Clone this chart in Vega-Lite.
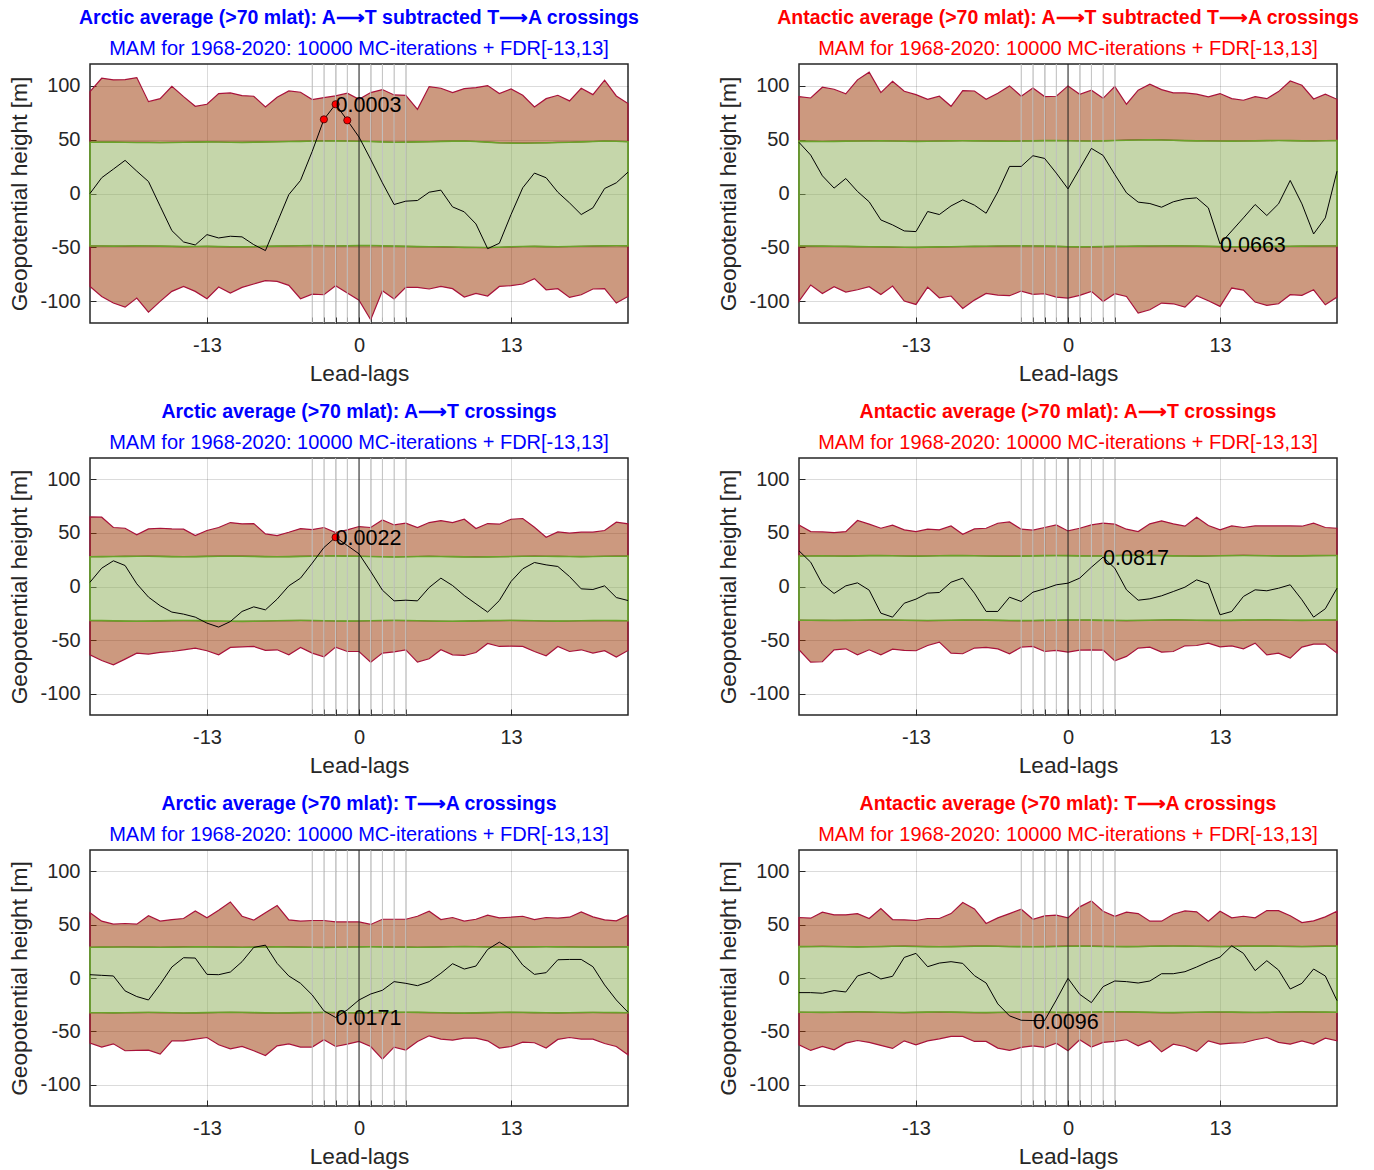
{
"$schema": "https://vega.github.io/schema/vega-lite/v6.json",
"background": "white",
"padding": {"left": 8, "top": 7, "right": 5, "bottom": 5},
"columns": 2,
"spacing": {"row": 135, "column": 171},
"bounds": "flush",
"datasets": {
"vl": [{"lag":-4},{"lag":-3},{"lag":-2},{"lag":-1},{"lag":0},{"lag":1},{"lag":2},{"lag":3},{"lag":4}],
"p1": [
{"lag":-23,"hi2":94.4,"hi1":47.5,"v":0,"lo1":-48.5,"lo2":-86.1},
{"lag":-22,"hi2":106.8,"hi1":47.6,"v":14.6,"lo1":-48.6,"lo2":-95.4},
{"lag":-21,"hi2":105.3,"hi1":47.6,"v":22.6,"lo1":-48.8,"lo2":-101.5},
{"lag":-20,"hi2":105.6,"hi1":47.5,"v":30.7,"lo1":-48.7,"lo2":-105.3},
{"lag":-19,"hi2":107.4,"hi1":47.3,"v":20.7,"lo1":-48.5,"lo2":-96.9},
{"lag":-18,"hi2":85.1,"hi1":47.3,"v":11.1,"lo1":-48.6,"lo2":-109.9},
{"lag":-17,"hi2":87.9,"hi1":47.2,"v":-11.8,"lo1":-48.8,"lo2":-100},
{"lag":-16,"hi2":99.4,"hi1":47.3,"v":-34.4,"lo1":-49,"lo2":-90.7},
{"lag":-15,"hi2":89.8,"hi1":47.5,"v":-44.9,"lo1":-49.2,"lo2":-86.1},
{"lag":-14,"hi2":80.8,"hi1":47.6,"v":-47.7,"lo1":-49.1,"lo2":-90.7},
{"lag":-13,"hi2":82.7,"hi1":47.8,"v":-38.1,"lo1":-49,"lo2":-97.5},
{"lag":-12,"hi2":92.6,"hi1":47.7,"v":-41.2,"lo1":-49.2,"lo2":-86.7},
{"lag":-11,"hi2":93.2,"hi1":47.5,"v":-39.6,"lo1":-49.4,"lo2":-92.3},
{"lag":-10,"hi2":90.7,"hi1":47.4,"v":-40.2,"lo1":-49.5,"lo2":-87},
{"lag":-9,"hi2":90.1,"hi1":47.6,"v":-47.4,"lo1":-49.3,"lo2":-83.9},
{"lag":-8,"hi2":80.2,"hi1":47.8,"v":-52.9,"lo1":-49,"lo2":-80.8},
{"lag":-7,"hi2":89.2,"hi1":48,"v":-27,"lo1":-48.8,"lo2":-81.4},
{"lag":-6,"hi2":95,"hi1":48.2,"v":-1,"lo1":-48.6,"lo2":-85.1},
{"lag":-5,"hi2":93.8,"hi1":48.3,"v":12.1,"lo1":-48.4,"lo2":-97.5},
{"lag":-4,"hi2":87,"hi1":48.6,"v":39,"lo1":-48.3,"lo2":-93.2},
{"lag":-3,"hi2":88.9,"hi1":48.7,"v":68.7,"lo1":-48.4,"lo2":-93.8},
{"lag":-2,"hi2":90.4,"hi1":48.8,"v":82.7,"lo1":-48.6,"lo2":-85.4},
{"lag":-1,"hi2":92.9,"hi1":48.6,"v":67.8,"lo1":-48.5,"lo2":-92.3},
{"lag":0,"hi2":87.3,"hi1":48.4,"v":52.3,"lo1":-48.3,"lo2":-98.8},
{"lag":1,"hi2":93.5,"hi1":48.2,"v":31.6,"lo1":-48.2,"lo2":-117},
{"lag":2,"hi2":96.3,"hi1":47.8,"v":9.9,"lo1":-48.5,"lo2":-90.1},
{"lag":3,"hi2":91.3,"hi1":47.5,"v":-10.2,"lo1":-48.8,"lo2":-97.8},
{"lag":4,"hi2":91,"hi1":47.6,"v":-7.1,"lo1":-49,"lo2":-87},
{"lag":5,"hi2":78,"hi1":47.8,"v":-6.5,"lo1":-49.2,"lo2":-87},
{"lag":6,"hi2":99.1,"hi1":48,"v":1.2,"lo1":-49.3,"lo2":-88.5},
{"lag":7,"hi2":97.5,"hi1":48.3,"v":3.1,"lo1":-49.4,"lo2":-86.1},
{"lag":8,"hi2":93.5,"hi1":48.5,"v":-12.4,"lo1":-49.6,"lo2":-88.2},
{"lag":9,"hi2":97.2,"hi1":48.6,"v":-17,"lo1":-49.9,"lo2":-96},
{"lag":10,"hi2":98.1,"hi1":48.2,"v":-28.2,"lo1":-50,"lo2":-92.6},
{"lag":11,"hi2":100,"hi1":47.6,"v":-51.1,"lo1":-50.1,"lo2":-95},
{"lag":12,"hi2":92.6,"hi1":47,"v":-46.1,"lo1":-49.8,"lo2":-86.1},
{"lag":13,"hi2":96.9,"hi1":46.7,"v":-19.5,"lo1":-49.4,"lo2":-85.4},
{"lag":14,"hi2":91,"hi1":46.6,"v":5.3,"lo1":-49.1,"lo2":-83.9},
{"lag":15,"hi2":80.2,"hi1":46.8,"v":18.9,"lo1":-49,"lo2":-78.9},
{"lag":16,"hi2":87.9,"hi1":47,"v":14.6,"lo1":-49.2,"lo2":-89.2},
{"lag":17,"hi2":91,"hi1":47.3,"v":1.2,"lo1":-49.3,"lo2":-88.2},
{"lag":18,"hi2":85.8,"hi1":47.5,"v":-8.7,"lo1":-49.1,"lo2":-96.3},
{"lag":19,"hi2":97.5,"hi1":47.8,"v":-19.5,"lo1":-48.9,"lo2":-93.8},
{"lag":20,"hi2":91.6,"hi1":48.2,"v":-13.3,"lo1":-48.7,"lo2":-88.5},
{"lag":21,"hi2":105,"hi1":48.6,"v":4.6,"lo1":-48.5,"lo2":-88.2},
{"lag":22,"hi2":90.4,"hi1":48.4,"v":9.9,"lo1":-48.4,"lo2":-101.5},
{"lag":23,"hi2":83.3,"hi1":48,"v":19.8,"lo1":-48.5,"lo2":-95.4}
],
"p2": [
{"lag":-23,"hi2":89.8,"hi1":48.5,"v":47.4,"lo1":-48.6,"lo2":-99.7},
{"lag":-22,"hi2":88.5,"hi1":48.3,"v":35.6,"lo1":-48.7,"lo2":-84.8},
{"lag":-21,"hi2":98.5,"hi1":48.2,"v":16.4,"lo1":-48.8,"lo2":-92.6},
{"lag":-20,"hi2":96.6,"hi1":48.3,"v":5,"lo1":-48.9,"lo2":-86.4},
{"lag":-19,"hi2":92.3,"hi1":48.5,"v":13.9,"lo1":-49,"lo2":-91.3},
{"lag":-18,"hi2":105.3,"hi1":48.6,"v":1.9,"lo1":-49.2,"lo2":-89.2},
{"lag":-17,"hi2":112.4,"hi1":48.7,"v":-7.7,"lo1":-49.3,"lo2":-86.4},
{"lag":-16,"hi2":93.5,"hi1":48.8,"v":-24.5,"lo1":-49.5,"lo2":-93.5},
{"lag":-15,"hi2":104,"hi1":48.6,"v":-29.1,"lo1":-49.6,"lo2":-85.8},
{"lag":-14,"hi2":94.7,"hi1":48.4,"v":-34.7,"lo1":-49.8,"lo2":-99.7},
{"lag":-13,"hi2":91.6,"hi1":48.3,"v":-35.3,"lo1":-49.9,"lo2":-102.8},
{"lag":-12,"hi2":87.3,"hi1":48.4,"v":-16.7,"lo1":-49.7,"lo2":-86.7},
{"lag":-11,"hi2":90.1,"hi1":48.6,"v":-19.5,"lo1":-49.5,"lo2":-96.6},
{"lag":-10,"hi2":80.8,"hi1":48.8,"v":-11.5,"lo1":-49.3,"lo2":-95},
{"lag":-9,"hi2":95.4,"hi1":48.9,"v":-5.9,"lo1":-49.1,"lo2":-106.5},
{"lag":-8,"hi2":95,"hi1":48.8,"v":-10.8,"lo1":-49,"lo2":-98.8},
{"lag":-7,"hi2":87.3,"hi1":48.6,"v":-18.3,"lo1":-48.9,"lo2":-92.6},
{"lag":-6,"hi2":92.9,"hi1":48.5,"v":1.5,"lo1":-48.7,"lo2":-94.1},
{"lag":-5,"hi2":99.7,"hi1":48.4,"v":25.1,"lo1":-48.6,"lo2":-94.7},
{"lag":-4,"hi2":90.1,"hi1":48.6,"v":25.1,"lo1":-48.5,"lo2":-90.4},
{"lag":-3,"hi2":97.8,"hi1":48.8,"v":35,"lo1":-48.6,"lo2":-93.5},
{"lag":-2,"hi2":89.8,"hi1":49,"v":32.5,"lo1":-48.8,"lo2":-92.9},
{"lag":-1,"hi2":90.1,"hi1":49.1,"v":18.9,"lo1":-49,"lo2":-96},
{"lag":0,"hi2":99.7,"hi1":48.9,"v":4.3,"lo1":-49.3,"lo2":-96.9},
{"lag":1,"hi2":92,"hi1":48.7,"v":23,"lo1":-49.5,"lo2":-94.4},
{"lag":2,"hi2":95.7,"hi1":48.6,"v":41.8,"lo1":-49.4,"lo2":-90.7},
{"lag":3,"hi2":88.2,"hi1":48.8,"v":35.3,"lo1":-49.2,"lo2":-100},
{"lag":4,"hi2":99.1,"hi1":49.1,"v":17.6,"lo1":-49,"lo2":-92.9},
{"lag":5,"hi2":82.7,"hi1":49.4,"v":0.6,"lo1":-48.9,"lo2":-95.4},
{"lag":6,"hi2":95.7,"hi1":49.6,"v":-8,"lo1":-48.8,"lo2":-110.8},
{"lag":7,"hi2":101.2,"hi1":49.8,"v":-9.3,"lo1":-48.7,"lo2":-107.7},
{"lag":8,"hi2":96.3,"hi1":49.6,"v":-12.7,"lo1":-48.6,"lo2":-101.5},
{"lag":9,"hi2":93.2,"hi1":49.3,"v":-7.7,"lo1":-48.5,"lo2":-102.2},
{"lag":10,"hi2":93.2,"hi1":49,"v":-5,"lo1":-48.6,"lo2":-105.3},
{"lag":11,"hi2":92,"hi1":48.8,"v":-4,"lo1":-48.8,"lo2":-94.7},
{"lag":12,"hi2":89.5,"hi1":48.7,"v":-13.3,"lo1":-49,"lo2":-99.4},
{"lag":13,"hi2":92.6,"hi1":48.6,"v":-46.7,"lo1":-49.2,"lo2":-104.6},
{"lag":14,"hi2":87.9,"hi1":48.5,"v":-34.7,"lo1":-49.4,"lo2":-87.6},
{"lag":15,"hi2":86.4,"hi1":48.6,"v":-22.6,"lo1":-49.5,"lo2":-89.5},
{"lag":16,"hi2":89.8,"hi1":48.8,"v":-10.2,"lo1":-49.4,"lo2":-100.6},
{"lag":17,"hi2":87.9,"hi1":49,"v":-20.4,"lo1":-49.2,"lo2":-103.7},
{"lag":18,"hi2":94.4,"hi1":49.1,"v":-9.6,"lo1":-49,"lo2":-102.2},
{"lag":19,"hi2":104.3,"hi1":49,"v":12.1,"lo1":-48.9,"lo2":-93.8},
{"lag":20,"hi2":100.3,"hi1":48.8,"v":-9.6,"lo1":-48.8,"lo2":-94.4},
{"lag":21,"hi2":87.6,"hi1":48.7,"v":-37.5,"lo1":-48.7,"lo2":-89.2},
{"lag":22,"hi2":92,"hi1":48.9,"v":-22.6,"lo1":-48.6,"lo2":-103.1},
{"lag":23,"hi2":87.3,"hi1":49.1,"v":20.7,"lo1":-48.5,"lo2":-96}
],
"p3": [
{"lag":-23,"hi2":65,"hi1":27.8,"v":4,"lo1":-31.8,"lo2":-63.8},
{"lag":-22,"hi2":64.7,"hi1":27.9,"v":17.1,"lo1":-31.9,"lo2":-69.1},
{"lag":-21,"hi2":55.1,"hi1":28,"v":24,"lo1":-32.1,"lo2":-73.1},
{"lag":-20,"hi2":54.4,"hi1":28.1,"v":19.6,"lo1":-32.3,"lo2":-67.8},
{"lag":-19,"hi2":48.2,"hi1":28.2,"v":2.5,"lo1":-32.4,"lo2":-62.2},
{"lag":-18,"hi2":53.8,"hi1":28.3,"v":-9.9,"lo1":-32.3,"lo2":-63.1},
{"lag":-17,"hi2":54.4,"hi1":28.1,"v":-18,"lo1":-32.1,"lo2":-61.6},
{"lag":-16,"hi2":53.8,"hi1":27.9,"v":-23.9,"lo1":-31.9,"lo2":-60.7},
{"lag":-15,"hi2":53.5,"hi1":27.8,"v":-25.8,"lo1":-31.8,"lo2":-59.1},
{"lag":-14,"hi2":47.6,"hi1":27.9,"v":-28.6,"lo1":-31.9,"lo2":-57.5},
{"lag":-13,"hi2":52.3,"hi1":28.1,"v":-34.2,"lo1":-32.1,"lo2":-60},
{"lag":-12,"hi2":55.1,"hi1":28.3,"v":-37.9,"lo1":-32.3,"lo2":-63.8},
{"lag":-11,"hi2":59.7,"hi1":28.4,"v":-32.7,"lo1":-32.5,"lo2":-56.9},
{"lag":-10,"hi2":58.5,"hi1":28.3,"v":-23.3,"lo1":-32.6,"lo2":-56.3},
{"lag":-9,"hi2":58.8,"hi1":28.1,"v":-19,"lo1":-32.4,"lo2":-56},
{"lag":-8,"hi2":49.1,"hi1":27.9,"v":-21.8,"lo1":-32.2,"lo2":-59.7},
{"lag":-7,"hi2":47.6,"hi1":27.8,"v":-11.8,"lo1":-32,"lo2":-59.1},
{"lag":-6,"hi2":50.7,"hi1":27.9,"v":0.6,"lo1":-31.8,"lo2":-63.8},
{"lag":-5,"hi2":54.1,"hi1":28.1,"v":7.8,"lo1":-31.7,"lo2":-56.9},
{"lag":-4,"hi2":53.2,"hi1":28.3,"v":21.8,"lo1":-31.8,"lo2":-62.2},
{"lag":-3,"hi2":55.1,"hi1":28.5,"v":36.4,"lo1":-32,"lo2":-65.6},
{"lag":-2,"hi2":50.4,"hi1":28.6,"v":46,"lo1":-32.2,"lo2":-56.6},
{"lag":-1,"hi2":52.9,"hi1":28.4,"v":38.3,"lo1":-32.3,"lo2":-60.7},
{"lag":0,"hi2":56,"hi1":28.2,"v":30.5,"lo1":-32.2,"lo2":-60.7},
{"lag":1,"hi2":55.1,"hi1":28,"v":14,"lo1":-32,"lo2":-70.6},
{"lag":2,"hi2":62.2,"hi1":27.8,"v":-3.4,"lo1":-31.8,"lo2":-62.2},
{"lag":3,"hi2":57.5,"hi1":27.7,"v":-13.4,"lo1":-31.7,"lo2":-61},
{"lag":4,"hi2":59.1,"hi1":27.8,"v":-12.8,"lo1":-31.8,"lo2":-59.1},
{"lag":5,"hi2":55.1,"hi1":28,"v":-13.4,"lo1":-32,"lo2":-70.6},
{"lag":6,"hi2":59.7,"hi1":28.1,"v":-0.9,"lo1":-32.2,"lo2":-67.5},
{"lag":7,"hi2":61.6,"hi1":28,"v":7.8,"lo1":-32.4,"lo2":-59.1},
{"lag":8,"hi2":59.7,"hi1":27.9,"v":0.9,"lo1":-32.5,"lo2":-63.8},
{"lag":9,"hi2":62.8,"hi1":27.7,"v":-8.4,"lo1":-32.3,"lo2":-64.4},
{"lag":10,"hi2":54.1,"hi1":27.6,"v":-16.2,"lo1":-32.1,"lo2":-61.6},
{"lag":11,"hi2":58.8,"hi1":27.7,"v":-23.9,"lo1":-31.9,"lo2":-53.2},
{"lag":12,"hi2":58.2,"hi1":27.8,"v":-13.1,"lo1":-31.8,"lo2":-56},
{"lag":13,"hi2":62.8,"hi1":28,"v":4.7,"lo1":-31.7,"lo2":-55.7},
{"lag":14,"hi2":63.5,"hi1":28.2,"v":16.5,"lo1":-31.8,"lo2":-56},
{"lag":15,"hi2":55.4,"hi1":28.3,"v":22.4,"lo1":-32,"lo2":-60.7},
{"lag":16,"hi2":46,"hi1":28.2,"v":20.2,"lo1":-32.2,"lo2":-64.7},
{"lag":17,"hi2":51,"hi1":28.1,"v":18.7,"lo1":-32.3,"lo2":-56},
{"lag":18,"hi2":49.8,"hi1":28,"v":9.3,"lo1":-32.2,"lo2":-60.7},
{"lag":19,"hi2":50.7,"hi1":27.9,"v":-2.2,"lo1":-32,"lo2":-59.1},
{"lag":20,"hi2":50.7,"hi1":28,"v":-2.8,"lo1":-31.9,"lo2":-62.2},
{"lag":21,"hi2":52.3,"hi1":28.2,"v":0.6,"lo1":-31.8,"lo2":-60},
{"lag":22,"hi2":60,"hi1":28.3,"v":-10.3,"lo1":-31.9,"lo2":-65.9},
{"lag":23,"hi2":58.5,"hi1":28.4,"v":-13.1,"lo1":-32,"lo2":-59.7}
],
"p4": [
{"lag":-23,"hi2":57.5,"hi1":28.4,"v":33.3,"lo1":-31.4,"lo2":-59.1},
{"lag":-22,"hi2":51.3,"hi1":28.5,"v":22.7,"lo1":-31.5,"lo2":-70.6},
{"lag":-21,"hi2":51,"hi1":28.6,"v":2.2,"lo1":-31.6,"lo2":-70.3},
{"lag":-20,"hi2":50.4,"hi1":28.5,"v":-6.5,"lo1":-31.7,"lo2":-59.1},
{"lag":-19,"hi2":51.3,"hi1":28.4,"v":0.6,"lo1":-31.6,"lo2":-58.2},
{"lag":-18,"hi2":61.6,"hi1":28.6,"v":3.4,"lo1":-31.5,"lo2":-63.8},
{"lag":-17,"hi2":58.2,"hi1":28.8,"v":-3.4,"lo1":-31.3,"lo2":-59.1},
{"lag":-16,"hi2":54.4,"hi1":28.9,"v":-24.9,"lo1":-31.2,"lo2":-63.8},
{"lag":-15,"hi2":57.2,"hi1":28.7,"v":-28.6,"lo1":-31.3,"lo2":-58.5},
{"lag":-14,"hi2":52.9,"hi1":28.5,"v":-15.6,"lo1":-31.5,"lo2":-59.7},
{"lag":-13,"hi2":51.3,"hi1":28.4,"v":-11.8,"lo1":-31.7,"lo2":-60},
{"lag":-12,"hi2":53.5,"hi1":28.5,"v":-6.2,"lo1":-31.8,"lo2":-55.1},
{"lag":-11,"hi2":52.9,"hi1":28.7,"v":-5.6,"lo1":-31.7,"lo2":-51.9},
{"lag":-10,"hi2":56.6,"hi1":28.8,"v":4,"lo1":-31.5,"lo2":-62.2},
{"lag":-9,"hi2":48.8,"hi1":28.9,"v":7.8,"lo1":-31.4,"lo2":-62.8},
{"lag":-8,"hi2":53.8,"hi1":28.7,"v":-6.2,"lo1":-31.3,"lo2":-57.5},
{"lag":-7,"hi2":54.4,"hi1":28.5,"v":-23.3,"lo1":-31.4,"lo2":-56.9},
{"lag":-6,"hi2":59.1,"hi1":28.4,"v":-23.3,"lo1":-31.6,"lo2":-58.2},
{"lag":-5,"hi2":60.3,"hi1":28.3,"v":-10,"lo1":-31.8,"lo2":-62.8},
{"lag":-4,"hi2":53.5,"hi1":28.4,"v":-14,"lo1":-31.9,"lo2":-56.6},
{"lag":-3,"hi2":52.6,"hi1":28.6,"v":-5.3,"lo1":-31.8,"lo2":-56},
{"lag":-2,"hi2":55.1,"hi1":28.8,"v":-2.2,"lo1":-31.6,"lo2":-60.7},
{"lag":-1,"hi2":57.5,"hi1":28.9,"v":1.6,"lo1":-31.5,"lo2":-59.7},
{"lag":0,"hi2":51.9,"hi1":28.8,"v":3.1,"lo1":-31.4,"lo2":-61.3},
{"lag":1,"hi2":54.4,"hi1":28.6,"v":7.8,"lo1":-31.3,"lo2":-59.4},
{"lag":2,"hi2":57.5,"hi1":28.5,"v":18,"lo1":-31.4,"lo2":-59.1},
{"lag":3,"hi2":59.1,"hi1":28.6,"v":27.4,"lo1":-31.6,"lo2":-59.4},
{"lag":4,"hi2":58.2,"hi1":28.8,"v":17.1,"lo1":-31.7,"lo2":-69.4},
{"lag":5,"hi2":53.5,"hi1":29,"v":-3.1,"lo1":-31.8,"lo2":-65.3},
{"lag":6,"hi2":51.3,"hi1":29.1,"v":-12.8,"lo1":-31.7,"lo2":-57.5},
{"lag":7,"hi2":58.5,"hi1":29,"v":-11.5,"lo1":-31.5,"lo2":-56.6},
{"lag":8,"hi2":61.3,"hi1":28.8,"v":-8.7,"lo1":-31.3,"lo2":-61.3},
{"lag":9,"hi2":58.5,"hi1":28.6,"v":-4.7,"lo1":-31.2,"lo2":-60.7},
{"lag":10,"hi2":56.3,"hi1":28.5,"v":-0.6,"lo1":-31.3,"lo2":-55.4},
{"lag":11,"hi2":64.7,"hi1":28.4,"v":6.2,"lo1":-31.5,"lo2":-55.1},
{"lag":12,"hi2":56.9,"hi1":28.5,"v":2.5,"lo1":-31.6,"lo2":-52.9},
{"lag":13,"hi2":52.9,"hi1":28.7,"v":-26.4,"lo1":-31.7,"lo2":-56.3},
{"lag":14,"hi2":56.6,"hi1":28.9,"v":-23.3,"lo1":-31.6,"lo2":-55.4},
{"lag":15,"hi2":55.1,"hi1":29,"v":-9.3,"lo1":-31.4,"lo2":-58.2},
{"lag":16,"hi2":56.6,"hi1":28.9,"v":-3.1,"lo1":-31.3,"lo2":-52.9},
{"lag":17,"hi2":56.6,"hi1":28.7,"v":-4,"lo1":-31.2,"lo2":-63.8},
{"lag":18,"hi2":56.6,"hi1":28.6,"v":-1.6,"lo1":-31.3,"lo2":-62.2},
{"lag":19,"hi2":56.6,"hi1":28.5,"v":1.6,"lo1":-31.5,"lo2":-66.9},
{"lag":20,"hi2":56.3,"hi1":28.6,"v":-12.4,"lo1":-31.6,"lo2":-56.6},
{"lag":21,"hi2":59.1,"hi1":28.8,"v":-28.6,"lo1":-31.5,"lo2":-53.8},
{"lag":22,"hi2":55.1,"hi1":28.9,"v":-20.8,"lo1":-31.4,"lo2":-53.8},
{"lag":23,"hi2":54.4,"hi1":29,"v":-1.6,"lo1":-31.3,"lo2":-62.2}
],
"p5": [
{"lag":-23,"hi2":61.1,"hi1":28.8,"v":3.1,"lo1":-32.5,"lo2":-61.1},
{"lag":-22,"hi2":53.3,"hi1":28.9,"v":2.5,"lo1":-32.6,"lo2":-64.8},
{"lag":-21,"hi2":50.5,"hi1":29,"v":1.9,"lo1":-32.7,"lo2":-61.7},
{"lag":-20,"hi2":51.1,"hi1":29.1,"v":-12.1,"lo1":-32.6,"lo2":-68.2},
{"lag":-19,"hi2":50.5,"hi1":29,"v":-17.4,"lo1":-32.4,"lo2":-67.9},
{"lag":-18,"hi2":58.3,"hi1":28.9,"v":-20.6,"lo1":-32.3,"lo2":-67.6},
{"lag":-17,"hi2":53.3,"hi1":28.8,"v":-5.9,"lo1":-32.4,"lo2":-71.3},
{"lag":-16,"hi2":54.8,"hi1":28.9,"v":10.3,"lo1":-32.6,"lo2":-58.9},
{"lag":-15,"hi2":55.8,"hi1":29.1,"v":19,"lo1":-32.8,"lo2":-58.9},
{"lag":-14,"hi2":62.9,"hi1":29.3,"v":18.7,"lo1":-32.7,"lo2":-57.3},
{"lag":-13,"hi2":56.4,"hi1":29.2,"v":3.4,"lo1":-32.5,"lo2":-55.8},
{"lag":-12,"hi2":63.6,"hi1":29,"v":3.1,"lo1":-32.3,"lo2":-62.6},
{"lag":-11,"hi2":71.3,"hi1":28.9,"v":5.6,"lo1":-32.2,"lo2":-66.4},
{"lag":-10,"hi2":57.9,"hi1":28.8,"v":15.3,"lo1":-32.3,"lo2":-64.2},
{"lag":-9,"hi2":54.2,"hi1":28.9,"v":28.7,"lo1":-32.5,"lo2":-68.2},
{"lag":-8,"hi2":61.1,"hi1":29.1,"v":30.8,"lo1":-32.7,"lo2":-72.6},
{"lag":-7,"hi2":67.9,"hi1":29.2,"v":13.7,"lo1":-32.8,"lo2":-63.6},
{"lag":-6,"hi2":54.5,"hi1":29.1,"v":1.9,"lo1":-32.7,"lo2":-61.7},
{"lag":-5,"hi2":53.3,"hi1":28.9,"v":-5,"lo1":-32.5,"lo2":-64.8},
{"lag":-4,"hi2":53.9,"hi1":28.8,"v":-15.9,"lo1":-32.4,"lo2":-64.8},
{"lag":-3,"hi2":53.9,"hi1":28.7,"v":-30.8,"lo1":-32.3,"lo2":-57.9},
{"lag":-2,"hi2":52.6,"hi1":28.8,"v":-37,"lo1":-32.4,"lo2":-64.2},
{"lag":-1,"hi2":52.6,"hi1":29,"v":-29.9,"lo1":-32.6,"lo2":-62},
{"lag":0,"hi2":52.6,"hi1":29.2,"v":-20.6,"lo1":-32.7,"lo2":-59.5},
{"lag":1,"hi2":50.2,"hi1":29.3,"v":-15,"lo1":-32.6,"lo2":-64.2},
{"lag":2,"hi2":55.1,"hi1":29.2,"v":-11.5,"lo1":-32.4,"lo2":-76},
{"lag":3,"hi2":55.1,"hi1":29,"v":-3.4,"lo1":-32.2,"lo2":-64.8},
{"lag":4,"hi2":55.1,"hi1":28.9,"v":-5,"lo1":-32.1,"lo2":-67.6},
{"lag":5,"hi2":57.9,"hi1":28.8,"v":-7.2,"lo1":-32.2,"lo2":-59.5},
{"lag":6,"hi2":62.6,"hi1":28.9,"v":-3.4,"lo1":-32.4,"lo2":-54.2},
{"lag":7,"hi2":54.8,"hi1":29.1,"v":4.4,"lo1":-32.6,"lo2":-57.3},
{"lag":8,"hi2":56.7,"hi1":29.3,"v":13.4,"lo1":-32.8,"lo2":-58.3},
{"lag":9,"hi2":53.3,"hi1":29.4,"v":8.4,"lo1":-32.9,"lo2":-56.4},
{"lag":10,"hi2":55.1,"hi1":29.3,"v":11.2,"lo1":-32.7,"lo2":-56.4},
{"lag":11,"hi2":58.9,"hi1":29.1,"v":26.8,"lo1":-32.5,"lo2":-58.9},
{"lag":12,"hi2":56.4,"hi1":29,"v":33.6,"lo1":-32.3,"lo2":-65.7},
{"lag":13,"hi2":57,"hi1":28.9,"v":26.8,"lo1":-32.2,"lo2":-64.2},
{"lag":14,"hi2":57.9,"hi1":29,"v":12.1,"lo1":-32.3,"lo2":-60.1},
{"lag":15,"hi2":54.8,"hi1":29.2,"v":3.4,"lo1":-32.5,"lo2":-60.7},
{"lag":16,"hi2":56.7,"hi1":29.3,"v":5,"lo1":-32.6,"lo2":-65.7},
{"lag":17,"hi2":56.1,"hi1":29.2,"v":17.1,"lo1":-32.7,"lo2":-57.6},
{"lag":18,"hi2":57,"hi1":29.1,"v":17.4,"lo1":-32.6,"lo2":-55.8},
{"lag":19,"hi2":62,"hi1":29,"v":17.4,"lo1":-32.4,"lo2":-57.3},
{"lag":20,"hi2":57.3,"hi1":28.9,"v":10.6,"lo1":-32.3,"lo2":-57.3},
{"lag":21,"hi2":54.5,"hi1":29,"v":-6.5,"lo1":-32.4,"lo2":-61.4},
{"lag":22,"hi2":53.6,"hi1":29.1,"v":-20.6,"lo1":-32.5,"lo2":-64.2},
{"lag":23,"hi2":58.9,"hi1":29.2,"v":-32.1,"lo1":-32.6,"lo2":-72}
],
"p6": [
{"lag":-23,"hi2":56.7,"hi1":29.4,"v":-13.7,"lo1":-32,"lo2":-62.6},
{"lag":-22,"hi2":56.1,"hi1":29.5,"v":-13.7,"lo1":-32.1,"lo2":-67.9},
{"lag":-21,"hi2":61.7,"hi1":29.6,"v":-14.3,"lo1":-32.2,"lo2":-64.2},
{"lag":-20,"hi2":59.2,"hi1":29.5,"v":-11.8,"lo1":-32.1,"lo2":-67.3},
{"lag":-19,"hi2":59.2,"hi1":29.3,"v":-13.1,"lo1":-31.9,"lo2":-61.1},
{"lag":-18,"hi2":60.4,"hi1":29.2,"v":1.9,"lo1":-31.8,"lo2":-58.6},
{"lag":-17,"hi2":55.8,"hi1":29.3,"v":5.3,"lo1":-31.9,"lo2":-60.4},
{"lag":-16,"hi2":65.1,"hi1":29.5,"v":-0.9,"lo1":-32.1,"lo2":-63.2},
{"lag":-15,"hi2":54.8,"hi1":29.7,"v":1.6,"lo1":-32.3,"lo2":-66},
{"lag":-14,"hi2":54.5,"hi1":29.8,"v":19.3,"lo1":-32.4,"lo2":-58.9},
{"lag":-13,"hi2":53.9,"hi1":29.6,"v":23.1,"lo1":-32.2,"lo2":-62.6},
{"lag":-12,"hi2":55.8,"hi1":29.4,"v":10.6,"lo1":-32,"lo2":-58.9},
{"lag":-11,"hi2":55.8,"hi1":29.3,"v":14,"lo1":-31.9,"lo2":-57},
{"lag":-10,"hi2":60.4,"hi1":29.4,"v":15.3,"lo1":-32,"lo2":-54.8},
{"lag":-9,"hi2":70.7,"hi1":29.6,"v":13.7,"lo1":-32.2,"lo2":-54.8},
{"lag":-8,"hi2":64.8,"hi1":29.8,"v":2.2,"lo1":-32.4,"lo2":-59.5},
{"lag":-7,"hi2":51.1,"hi1":29.9,"v":-4.7,"lo1":-32.5,"lo2":-59.5},
{"lag":-6,"hi2":56.4,"hi1":29.7,"v":-24.3,"lo1":-32.3,"lo2":-65.7},
{"lag":-5,"hi2":60.4,"hi1":29.5,"v":-35.5,"lo1":-32.1,"lo2":-67.9},
{"lag":-4,"hi2":64.5,"hi1":29.4,"v":-39.6,"lo1":-32,"lo2":-65.1},
{"lag":-3,"hi2":55.1,"hi1":29.3,"v":-39.9,"lo1":-31.9,"lo2":-63.6},
{"lag":-2,"hi2":58.3,"hi1":29.4,"v":-39.9,"lo1":-32,"lo2":-65.1},
{"lag":-1,"hi2":58.9,"hi1":29.6,"v":-20.6,"lo1":-32.2,"lo2":-61.1},
{"lag":0,"hi2":56.4,"hi1":29.8,"v":-0.3,"lo1":-32.3,"lo2":-68.2},
{"lag":1,"hi2":66.7,"hi1":29.9,"v":-15.3,"lo1":-32.2,"lo2":-57.9},
{"lag":2,"hi2":72.3,"hi1":29.8,"v":-23.1,"lo1":-32,"lo2":-64.8},
{"lag":3,"hi2":62.6,"hi1":29.6,"v":-8.1,"lo1":-31.8,"lo2":-60.4},
{"lag":4,"hi2":57.9,"hi1":29.5,"v":-2.8,"lo1":-31.7,"lo2":-59.5},
{"lag":5,"hi2":61.7,"hi1":29.4,"v":-3.4,"lo1":-31.8,"lo2":-57.9},
{"lag":6,"hi2":60.4,"hi1":29.5,"v":-4.7,"lo1":-32,"lo2":-63.6},
{"lag":7,"hi2":53.3,"hi1":29.7,"v":-2.8,"lo1":-32.2,"lo2":-58.9},
{"lag":8,"hi2":53.3,"hi1":29.9,"v":4,"lo1":-32.4,"lo2":-69.2},
{"lag":9,"hi2":59.8,"hi1":30,"v":4,"lo1":-32.5,"lo2":-62},
{"lag":10,"hi2":62.9,"hi1":29.9,"v":5.9,"lo1":-32.3,"lo2":-64.2},
{"lag":11,"hi2":62,"hi1":29.7,"v":10.3,"lo1":-32.1,"lo2":-68.8},
{"lag":12,"hi2":53.3,"hi1":29.6,"v":15.3,"lo1":-32,"lo2":-58.9},
{"lag":13,"hi2":62.6,"hi1":29.5,"v":19.6,"lo1":-31.9,"lo2":-62},
{"lag":14,"hi2":56.4,"hi1":29.6,"v":30.2,"lo1":-32,"lo2":-61.1},
{"lag":15,"hi2":57.9,"hi1":29.8,"v":23.1,"lo1":-32.2,"lo2":-60.7},
{"lag":16,"hi2":56.4,"hi1":30,"v":6.9,"lo1":-32.3,"lo2":-57.9},
{"lag":17,"hi2":63.2,"hi1":29.9,"v":16.2,"lo1":-32.2,"lo2":-55.8},
{"lag":18,"hi2":63.2,"hi1":29.7,"v":7.5,"lo1":-32,"lo2":-60.4},
{"lag":19,"hi2":58.3,"hi1":29.6,"v":-10.3,"lo1":-31.9,"lo2":-62},
{"lag":20,"hi2":52,"hi1":29.5,"v":-5,"lo1":-31.8,"lo2":-58.9},
{"lag":21,"hi2":53.6,"hi1":29.6,"v":8.4,"lo1":-31.9,"lo2":-62},
{"lag":22,"hi2":57.3,"hi1":29.8,"v":1.9,"lo1":-32,"lo2":-56.4},
{"lag":23,"hi2":62.6,"hi1":29.9,"v":-21.2,"lo1":-32.1,"lo2":-58.9}
]
},
"concat": [
{
"width": 538, "height": 259,
"title": {"text": "Arctic average (>70 mlat): A⟶T subtracted T⟶A crossings", "subtitle": "MAM for 1968-2020: 10000 MC-iterations + FDR[-13,13]", "color": "#0000ff", "subtitleColor": "#0000ff"},
"data": {"name": "p1"},
"encoding": {"x": {"field": "lag", "type": "quantitative", "scale": {"domain": [-23, 23], "nice": false, "zero": false}, "axis": {"values": [-13,-4,-3,-2,-1,0,1,2,3,4,13], "labelExpr": "indexof([-13, 0, 13], datum.value) >= 0 ? (datum.value < 0 ? '-' : '') + abs(datum.value) : ''", "title": "Lead-lags"}}},
"layer": [
{"mark": {"type": "area", "fill": "#993300", "fillOpacity": 0.5, "stroke": "#a8123a", "strokeWidth": 1.2, "opacity": 1}, "encoding": {"y": {"field": "hi2", "type": "quantitative", "scale": {"domain": [-120, 120], "nice": false, "zero": false}, "axis": {"values": [-100,-50,0,50,100], "labelExpr": "(datum.value < 0 ? '-' : '') + abs(datum.value)", "title": "Geopotential height [m]"}}, "y2": {"field": "hi1"}}},
{"mark": {"type": "area", "fill": "#993300", "fillOpacity": 0.5, "stroke": "#a8123a", "strokeWidth": 1.2, "opacity": 1}, "encoding": {"y": {"field": "lo1", "type": "quantitative"}, "y2": {"field": "lo2"}}},
{"mark": {"type": "area", "fill": "#8bad55", "fillOpacity": 0.5, "stroke": "#6aa22a", "strokeWidth": 1.6, "opacity": 1}, "encoding": {"y": {"field": "hi1", "type": "quantitative"}, "y2": {"field": "lo1"}}},
{"data": {"name": "vl"}, "mark": {"type": "rule", "strokeWidth": 1}, "encoding": {"color": {"condition": {"test": "datum.lag === 0", "value": "#262626"}, "value": "#c4c4c4"}}},
{"mark": {"type": "line", "color": "#000000", "strokeWidth": 1}, "encoding": {"y": {"field": "v", "type": "quantitative"}}},
{"data": {"values": [{"lag": -3, "v": 68.7}, {"lag": -2, "v": 82.7}, {"lag": -1, "v": 67.8}]}, "mark": {"type": "point", "shape": "circle", "filled": true, "color": "#ff0000", "stroke": "#400000", "strokeWidth": 0.8, "size": 52, "opacity": 1}, "encoding": {"y": {"field": "v", "type": "quantitative"}}},
{"data": {"values": [{"lag": -2, "v": 82.7, "label": "0.0003"}]}, "mark": {"type": "text", "align": "left", "baseline": "middle", "dy": 2, "fontSize": 21.5, "color": "#000000"}, "encoding": {"y": {"field": "v", "type": "quantitative"}, "text": {"field": "label"}}}
]
},
{
"width": 538, "height": 259,
"title": {"text": "Antactic average (>70 mlat): A⟶T subtracted T⟶A crossings", "subtitle": "MAM for 1968-2020: 10000 MC-iterations + FDR[-13,13]", "color": "#ff0000", "subtitleColor": "#ff0000"},
"data": {"name": "p2"},
"encoding": {"x": {"field": "lag", "type": "quantitative", "scale": {"domain": [-23, 23], "nice": false, "zero": false}, "axis": {"values": [-13,-4,-3,-2,-1,0,1,2,3,4,13], "labelExpr": "indexof([-13, 0, 13], datum.value) >= 0 ? (datum.value < 0 ? '-' : '') + abs(datum.value) : ''", "title": "Lead-lags"}}},
"layer": [
{"mark": {"type": "area", "fill": "#993300", "fillOpacity": 0.5, "stroke": "#a8123a", "strokeWidth": 1.2, "opacity": 1}, "encoding": {"y": {"field": "hi2", "type": "quantitative", "scale": {"domain": [-120, 120], "nice": false, "zero": false}, "axis": {"values": [-100,-50,0,50,100], "labelExpr": "(datum.value < 0 ? '-' : '') + abs(datum.value)", "title": "Geopotential height [m]"}}, "y2": {"field": "hi1"}}},
{"mark": {"type": "area", "fill": "#993300", "fillOpacity": 0.5, "stroke": "#a8123a", "strokeWidth": 1.2, "opacity": 1}, "encoding": {"y": {"field": "lo1", "type": "quantitative"}, "y2": {"field": "lo2"}}},
{"mark": {"type": "area", "fill": "#8bad55", "fillOpacity": 0.5, "stroke": "#6aa22a", "strokeWidth": 1.6, "opacity": 1}, "encoding": {"y": {"field": "hi1", "type": "quantitative"}, "y2": {"field": "lo1"}}},
{"data": {"name": "vl"}, "mark": {"type": "rule", "strokeWidth": 1}, "encoding": {"color": {"condition": {"test": "datum.lag === 0", "value": "#262626"}, "value": "#c4c4c4"}}},
{"mark": {"type": "line", "color": "#000000", "strokeWidth": 1}, "encoding": {"y": {"field": "v", "type": "quantitative"}}},
{"data": {"values": [{"lag": 13, "v": -46.7, "label": "0.0663"}]}, "mark": {"type": "text", "align": "left", "baseline": "middle", "dy": 2, "fontSize": 21.5, "color": "#000000"}, "encoding": {"y": {"field": "v", "type": "quantitative"}, "text": {"field": "label"}}}
]
},
{
"width": 538, "height": 257,
"title": {"text": "Arctic average (>70 mlat): A⟶T crossings", "subtitle": "MAM for 1968-2020: 10000 MC-iterations + FDR[-13,13]", "color": "#0000ff", "subtitleColor": "#0000ff"},
"data": {"name": "p3"},
"encoding": {"x": {"field": "lag", "type": "quantitative", "scale": {"domain": [-23, 23], "nice": false, "zero": false}, "axis": {"values": [-13,-4,-3,-2,-1,0,1,2,3,4,13], "labelExpr": "indexof([-13, 0, 13], datum.value) >= 0 ? (datum.value < 0 ? '-' : '') + abs(datum.value) : ''", "title": "Lead-lags"}}},
"layer": [
{"mark": {"type": "area", "fill": "#993300", "fillOpacity": 0.5, "stroke": "#a8123a", "strokeWidth": 1.2, "opacity": 1}, "encoding": {"y": {"field": "hi2", "type": "quantitative", "scale": {"domain": [-120, 120], "nice": false, "zero": false}, "axis": {"values": [-100,-50,0,50,100], "labelExpr": "(datum.value < 0 ? '-' : '') + abs(datum.value)", "title": "Geopotential height [m]"}}, "y2": {"field": "hi1"}}},
{"mark": {"type": "area", "fill": "#993300", "fillOpacity": 0.5, "stroke": "#a8123a", "strokeWidth": 1.2, "opacity": 1}, "encoding": {"y": {"field": "lo1", "type": "quantitative"}, "y2": {"field": "lo2"}}},
{"mark": {"type": "area", "fill": "#8bad55", "fillOpacity": 0.5, "stroke": "#6aa22a", "strokeWidth": 1.6, "opacity": 1}, "encoding": {"y": {"field": "hi1", "type": "quantitative"}, "y2": {"field": "lo1"}}},
{"data": {"name": "vl"}, "mark": {"type": "rule", "strokeWidth": 1}, "encoding": {"color": {"condition": {"test": "datum.lag === 0", "value": "#262626"}, "value": "#c4c4c4"}}},
{"mark": {"type": "line", "color": "#000000", "strokeWidth": 1}, "encoding": {"y": {"field": "v", "type": "quantitative"}}},
{"data": {"values": [{"lag": -2, "v": 46}]}, "mark": {"type": "point", "shape": "circle", "filled": true, "color": "#ff0000", "stroke": "#400000", "strokeWidth": 0.8, "size": 52, "opacity": 1}, "encoding": {"y": {"field": "v", "type": "quantitative"}}},
{"data": {"values": [{"lag": -2, "v": 46, "label": "0.0022"}]}, "mark": {"type": "text", "align": "left", "baseline": "middle", "dy": 2, "fontSize": 21.5, "color": "#000000"}, "encoding": {"y": {"field": "v", "type": "quantitative"}, "text": {"field": "label"}}}
]
},
{
"width": 538, "height": 257,
"title": {"text": "Antactic average (>70 mlat): A⟶T crossings", "subtitle": "MAM for 1968-2020: 10000 MC-iterations + FDR[-13,13]", "color": "#ff0000", "subtitleColor": "#ff0000"},
"data": {"name": "p4"},
"encoding": {"x": {"field": "lag", "type": "quantitative", "scale": {"domain": [-23, 23], "nice": false, "zero": false}, "axis": {"values": [-13,-4,-3,-2,-1,0,1,2,3,4,13], "labelExpr": "indexof([-13, 0, 13], datum.value) >= 0 ? (datum.value < 0 ? '-' : '') + abs(datum.value) : ''", "title": "Lead-lags"}}},
"layer": [
{"mark": {"type": "area", "fill": "#993300", "fillOpacity": 0.5, "stroke": "#a8123a", "strokeWidth": 1.2, "opacity": 1}, "encoding": {"y": {"field": "hi2", "type": "quantitative", "scale": {"domain": [-120, 120], "nice": false, "zero": false}, "axis": {"values": [-100,-50,0,50,100], "labelExpr": "(datum.value < 0 ? '-' : '') + abs(datum.value)", "title": "Geopotential height [m]"}}, "y2": {"field": "hi1"}}},
{"mark": {"type": "area", "fill": "#993300", "fillOpacity": 0.5, "stroke": "#a8123a", "strokeWidth": 1.2, "opacity": 1}, "encoding": {"y": {"field": "lo1", "type": "quantitative"}, "y2": {"field": "lo2"}}},
{"mark": {"type": "area", "fill": "#8bad55", "fillOpacity": 0.5, "stroke": "#6aa22a", "strokeWidth": 1.6, "opacity": 1}, "encoding": {"y": {"field": "hi1", "type": "quantitative"}, "y2": {"field": "lo1"}}},
{"data": {"name": "vl"}, "mark": {"type": "rule", "strokeWidth": 1}, "encoding": {"color": {"condition": {"test": "datum.lag === 0", "value": "#262626"}, "value": "#c4c4c4"}}},
{"mark": {"type": "line", "color": "#000000", "strokeWidth": 1}, "encoding": {"y": {"field": "v", "type": "quantitative"}}},
{"data": {"values": [{"lag": 3, "v": 27.4, "label": "0.0817"}]}, "mark": {"type": "text", "align": "left", "baseline": "middle", "dy": 2, "fontSize": 21.5, "color": "#000000"}, "encoding": {"y": {"field": "v", "type": "quantitative"}, "text": {"field": "label"}}}
]
},
{
"width": 538, "height": 256,
"title": {"text": "Arctic average (>70 mlat): T⟶A crossings", "subtitle": "MAM for 1968-2020: 10000 MC-iterations + FDR[-13,13]", "color": "#0000ff", "subtitleColor": "#0000ff"},
"data": {"name": "p5"},
"encoding": {"x": {"field": "lag", "type": "quantitative", "scale": {"domain": [-23, 23], "nice": false, "zero": false}, "axis": {"values": [-13,-4,-3,-2,-1,0,1,2,3,4,13], "labelExpr": "indexof([-13, 0, 13], datum.value) >= 0 ? (datum.value < 0 ? '-' : '') + abs(datum.value) : ''", "title": "Lead-lags"}}},
"layer": [
{"mark": {"type": "area", "fill": "#993300", "fillOpacity": 0.5, "stroke": "#a8123a", "strokeWidth": 1.2, "opacity": 1}, "encoding": {"y": {"field": "hi2", "type": "quantitative", "scale": {"domain": [-120, 120], "nice": false, "zero": false}, "axis": {"values": [-100,-50,0,50,100], "labelExpr": "(datum.value < 0 ? '-' : '') + abs(datum.value)", "title": "Geopotential height [m]"}}, "y2": {"field": "hi1"}}},
{"mark": {"type": "area", "fill": "#993300", "fillOpacity": 0.5, "stroke": "#a8123a", "strokeWidth": 1.2, "opacity": 1}, "encoding": {"y": {"field": "lo1", "type": "quantitative"}, "y2": {"field": "lo2"}}},
{"mark": {"type": "area", "fill": "#8bad55", "fillOpacity": 0.5, "stroke": "#6aa22a", "strokeWidth": 1.6, "opacity": 1}, "encoding": {"y": {"field": "hi1", "type": "quantitative"}, "y2": {"field": "lo1"}}},
{"data": {"name": "vl"}, "mark": {"type": "rule", "strokeWidth": 1}, "encoding": {"color": {"condition": {"test": "datum.lag === 0", "value": "#262626"}, "value": "#c4c4c4"}}},
{"mark": {"type": "line", "color": "#000000", "strokeWidth": 1}, "encoding": {"y": {"field": "v", "type": "quantitative"}}},
{"data": {"values": [{"lag": -2, "v": -37, "label": "0.0171"}]}, "mark": {"type": "text", "align": "left", "baseline": "middle", "dy": 2, "fontSize": 21.5, "color": "#000000"}, "encoding": {"y": {"field": "v", "type": "quantitative"}, "text": {"field": "label"}}}
]
},
{
"width": 538, "height": 256,
"title": {"text": "Antactic average (>70 mlat): T⟶A crossings", "subtitle": "MAM for 1968-2020: 10000 MC-iterations + FDR[-13,13]", "color": "#ff0000", "subtitleColor": "#ff0000"},
"data": {"name": "p6"},
"encoding": {"x": {"field": "lag", "type": "quantitative", "scale": {"domain": [-23, 23], "nice": false, "zero": false}, "axis": {"values": [-13,-4,-3,-2,-1,0,1,2,3,4,13], "labelExpr": "indexof([-13, 0, 13], datum.value) >= 0 ? (datum.value < 0 ? '-' : '') + abs(datum.value) : ''", "title": "Lead-lags"}}},
"layer": [
{"mark": {"type": "area", "fill": "#993300", "fillOpacity": 0.5, "stroke": "#a8123a", "strokeWidth": 1.2, "opacity": 1}, "encoding": {"y": {"field": "hi2", "type": "quantitative", "scale": {"domain": [-120, 120], "nice": false, "zero": false}, "axis": {"values": [-100,-50,0,50,100], "labelExpr": "(datum.value < 0 ? '-' : '') + abs(datum.value)", "title": "Geopotential height [m]"}}, "y2": {"field": "hi1"}}},
{"mark": {"type": "area", "fill": "#993300", "fillOpacity": 0.5, "stroke": "#a8123a", "strokeWidth": 1.2, "opacity": 1}, "encoding": {"y": {"field": "lo1", "type": "quantitative"}, "y2": {"field": "lo2"}}},
{"mark": {"type": "area", "fill": "#8bad55", "fillOpacity": 0.5, "stroke": "#6aa22a", "strokeWidth": 1.6, "opacity": 1}, "encoding": {"y": {"field": "hi1", "type": "quantitative"}, "y2": {"field": "lo1"}}},
{"data": {"name": "vl"}, "mark": {"type": "rule", "strokeWidth": 1}, "encoding": {"color": {"condition": {"test": "datum.lag === 0", "value": "#262626"}, "value": "#c4c4c4"}}},
{"mark": {"type": "line", "color": "#000000", "strokeWidth": 1}, "encoding": {"y": {"field": "v", "type": "quantitative"}}},
{"data": {"values": [{"lag": -3, "v": -39.9, "label": "0.0096"}]}, "mark": {"type": "text", "align": "left", "baseline": "middle", "dy": 2, "fontSize": 21.5, "color": "#000000"}, "encoding": {"y": {"field": "v", "type": "quantitative"}, "text": {"field": "label"}}}
]
}
],
"config": {
"font": "Liberation Sans",
"view": {"stroke": "#262626", "strokeWidth": 1.5},
"axis": {"grid": true, "gridColor": "#000000", "gridOpacity": 0.14, "gridWidth": 1, "domain": false, "ticks": true, "tickSize": -6, "tickColor": "#262626", "tickWidth": 1, "labelFont": "Liberation Sans", "labelFontSize": 20, "labelColor": "#262626", "labelOverlap": false, "titleFont": "Liberation Sans", "titleFontSize": 22.7, "titleFontWeight": "normal", "titleColor": "#262626"},
"axisX": {"labelPadding": 18, "titlePadding": 7},
"axisY": {"labelPadding": 16, "titlePadding": 8},
"title": {"font": "Liberation Sans", "fontSize": 19.5, "fontWeight": "bold", "subtitleFont": "Liberation Sans", "subtitleFontSize": 20, "subtitleFontWeight": "normal", "offset": 4, "subtitlePadding": 10, "anchor": "middle"}
}
}
